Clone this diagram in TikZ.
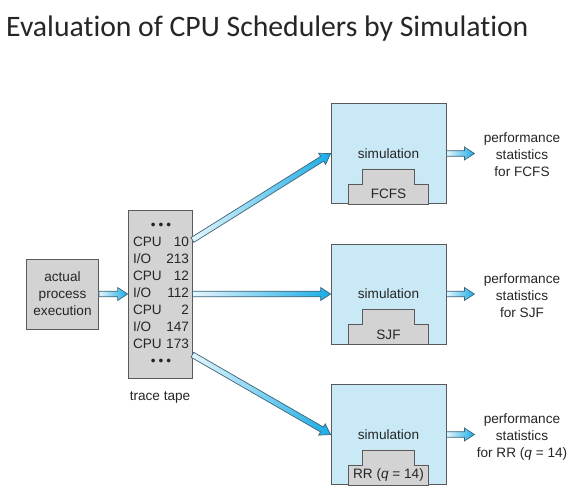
\documentclass[tikz,border=0pt]{standalone}
\usepackage{fontspec}
\setmainfont{Liberation Sans}
\newfontfamily\titlefont[Ligatures={NoCommon}]{Carlito}
\usetikzlibrary{calc}
\definecolor{simfill}{HTML}{C9E9F6}
\definecolor{grayfill}{HTML}{D3D3D3}
\definecolor{boxedge}{HTML}{5A5A5A}
\definecolor{arrowedge}{HTML}{3E6478}
\definecolor{arrowlight}{HTML}{E6F6FC}
\definecolor{arrowdark}{HTML}{19ACE6}

\newcommand\flowarrow[2]{%
  \path let \p1=(#1), \p2=(#2) in
    \pgfextra{\pgfmathsetmacro\flowang{atan2(\y2-\y1,\x2-\x1)}%
              \pgfmathsetmacro\flowlen{veclen(\x2-\x1,\y2-\y1)}%
              \global\let\flowangG\flowang \global\let\flowlenG\flowlen};%
  \shade[flowarr, shift={(#1)}, rotate=\flowangG]
     (0pt,-2.8pt) -- ({\flowlenG pt-10pt},-2.8pt) -- ({\flowlenG pt-10pt},-6.5pt)
     -- ({\flowlenG pt},0pt) -- ({\flowlenG pt-10pt},6.5pt) -- ({\flowlenG pt-10pt},2.8pt)
     -- (0pt,2.8pt) -- cycle;}

\begin{document}
\begin{tikzpicture}[x=1pt,y=-1pt,
  every node/.style={font=\fontsize{13.6}{17}\selectfont, inner sep=0pt, text=black!85},
  graybox/.style={draw=boxedge, fill=grayfill, line width=0.8pt},
  simbox/.style={draw=boxedge, fill=simfill, line width=0.8pt, minimum width=115pt, minimum height=100pt},
  stair/.style={draw=boxedge, fill=grayfill, line width=0.8pt},
  flowarr/.style={draw=arrowedge, line width=0.7pt, left color=arrowlight, right color=arrowdark, line join=miter}]
\useasboundingbox (0,0) rectangle (588,499);
\fill[white] (0,0) rectangle (588,499);

\node[anchor=base west, font=\titlefont\fontsize{29.7}{34}\selectfont, text=black!85] (title) at (6,36) {Evaluation of CPU Schedulers by Simulation};

% left boxes
\node[graybox, minimum width=72pt, minimum height=70pt, align=center] (actual) at (62.5,294) {actual\\process\\execution};
\node[graybox, minimum width=64pt, minimum height=168pt] (tape) at (160,294) {};
\node (tapetext) at (161,294) {%
  \begin{tabular}{@{}l@{\hspace{4.5pt}}r@{}}
  \multicolumn{2}{c}{\textbullet\hspace{3pt}\textbullet\hspace{3pt}\textbullet}\\
  CPU & 10\\ I/O & 213\\ CPU & 12\\ I/O & 112\\ CPU & 2\\ I/O & 147\\ CPU & 173\\
  \multicolumn{2}{c}{\textbullet\hspace{3pt}\textbullet\hspace{3pt}\textbullet}
  \end{tabular}};
\node (tapelabel) at ($(tape.south)+(0,19)$) {trace tape};

% simulation boxes
\node[simbox] (fcfs) at (388.5,153.5) {simulation};
\node[simbox] (sjf) at (388.5,294) {simulation};
\node[simbox] (rr) at (388.5,434.5) {simulation};

\foreach \b in {fcfs,sjf,rr}{
  \draw[stair] ($(\b.south west)+(18,0)$) -- ++(0,-20) -- ++(14,0) -- ++(0,-15)
     -- ++(52,0) -- ++(0,15) -- ++(14,0) -- ++(0,20) -- cycle;
}
\node (fcfslabel) at ($(fcfs.south)+(0,-10)$) {FCFS};
\node (sjflabel) at ($(sjf.south)+(0,-10)$) {SJF};
\node (rrlabel) at ($(rr.south)+(0,-10)$) {RR (\textit{q} = 14)};

% statistics
\node[align=center] (fcfsstats) at (522,155) {performance\\statistics\\for FCFS};
\node[align=center] (sjfstats) at (522,296) {performance\\statistics\\for SJF};
\node[align=center] (rrstats) at (522,437) {performance\\statistics\\for RR (\textit{q} = 14)};

% connector endpoints
\coordinate (t1) at ($(tape.north east)!0.18!(tape.south east)$);
\coordinate (t3) at ($(tape.north east)!0.86!(tape.south east)$);
\coordinate (o1) at ($(fcfs.east)+(28,0)$);
\coordinate (o2) at ($(sjf.east)+(28,0)$);
\coordinate (o3) at ($(rr.east)+(28,0)$);

\flowarrow{actual.east}{tape.west}
\flowarrow{t1}{fcfs.west}
\flowarrow{tape.east}{sjf.west}
\flowarrow{t3}{rr.west}
\flowarrow{fcfs.east}{o1}
\flowarrow{sjf.east}{o2}
\flowarrow{rr.east}{o3}
\end{tikzpicture}
\end{document}
